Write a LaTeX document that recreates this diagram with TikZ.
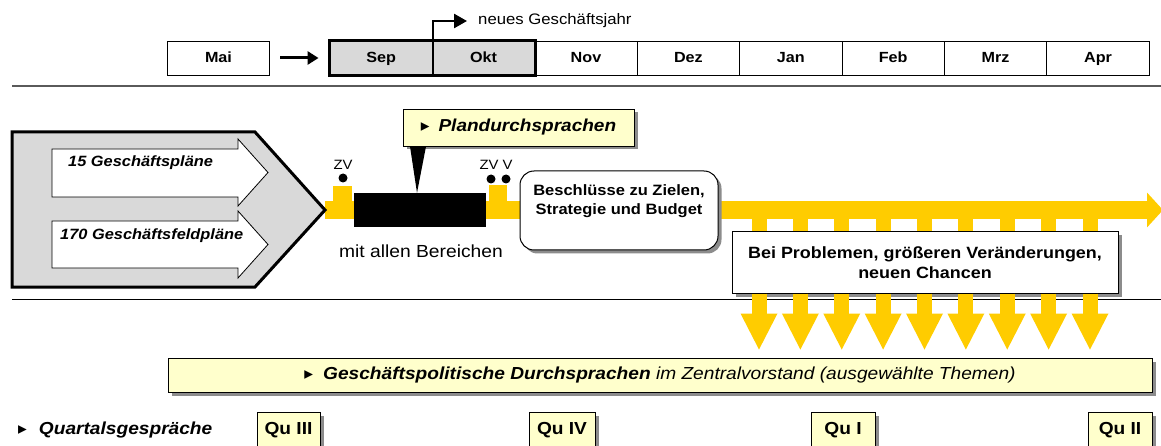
\documentclass[tikz,border=0pt]{standalone}
\usepackage{fontspec}
\setmainfont{Liberation Sans}[FakeStretch=1.1]
\newfontfamily\symfont{DejaVu Sans}
\usetikzlibrary{arrows.meta,shadows}

\definecolor{bandyellow}{HTML}{FFCC00}
\definecolor{paleyellow}{HTML}{FFFFCC}
\definecolor{boxgray}{HTML}{D9D9D9}
\definecolor{shadowgray}{HTML}{8C8C8C}
\definecolor{rulegray}{HTML}{5A5A5A}

% font size and leading in pt
\newcommand\setfs[2]{\fontsize{#1pt}{#2pt}\selectfont}
\newcommand\bul{{\symfont\char"25B8}}

\begin{document}
\begin{tikzpicture}[x=1pt,y=-1pt,
  month/.style={draw, line width=0.9pt, minimum width=102.4pt, minimum height=34pt,
    inner sep=0pt, text height=12pt, text depth=2pt, font={\setfs{14.7}{17}\bfseries}},
  hilite/.style={month, fill=boxgray},
  shade/.style={drop shadow={shadow xshift=3.5pt, shadow yshift=-3.5pt, fill=shadowgray, opacity=1}},
  callout/.style={draw, line width=0.9pt, fill=paleyellow, shade, inner sep=0pt},
  infobox/.style={draw, line width=1pt, fill=white, shade, inner sep=0pt, align=center},
  plainarr/.style={line width=3pt, -{Triangle[length=11pt,width=13pt]}},
  band/.style={bandyellow, line width=18pt, -{Triangle[length=16pt,width=34pt]}},
  stub/.style={bandyellow, line width=15pt},
  downarr/.style={bandyellow, line width=15pt, -{Triangle[length=37pt,width=34pt]}},
  planarrow/.style={draw, line width=0.8pt, fill=white},
  dot/.style={circle, fill=black, inner sep=0pt, minimum size=9pt},
  zvlabel/.style={inner sep=0pt, font={\setfs{13.5}{16}}},
  qubox/.style={callout, minimum height=36pt, text height=12.5pt, text depth=3.5pt,
    font={\setfs{17.4}{20}\bfseries}}
]
\path[use as bounding box, clip] (0,0) rectangle (1161,446);

% ---------- month scale ----------
\node[month] (mai) at (218.5,58) {Mai};
\node[hilite] (sep) at (381.2,58) {Sep};
\node[hilite] (okt) at (483.6,58) {Okt};
\foreach \m [count=\i from 2] in {Nov,Dez,Jan,Feb,Mrz,Apr}
  \node[month] (m\i) at ({381.2+102.4*\i},58) {\m};
\draw[line width=3pt] (sep.north west) rectangle (okt.south east);
\draw[line width=2.5pt] (sep.north east) -- (sep.south east);
\draw[plainarr, shorten <=10pt, shorten >=11pt] (mai) -- (sep);
\node[anchor=west, inner sep=0pt, font={\setfs{15.2}{18}}] (newyear) at (478,21) {neues Geschäftsjahr};
\draw[line width=2.5pt, -{Triangle[length=13pt,width=14pt]}]
  (sep.north east) |- ([xshift=-11pt]newyear.west);

% ---------- separating rules ----------
\draw[rulegray, line width=2pt] (12,86) -- (1161,86);
\draw[black, line width=1pt] (12,299.5) -- (1161,299.5);

% ---------- planning band ----------
\coordinate (tip) at (325,210);
\coordinate (bandend) at (1163,210);
\node[infobox, minimum width=386pt, minimum height=61pt] (prob) at (925,262.5) {};
\foreach \i in {0,...,8}
  \draw[stub] ([xshift={27.5pt+41.375pt*\i}]prob.north west) -- ++(0,-15);
\draw[band] (tip) -- (bandend);

% tabs at the meeting points
\fill[bandyellow] (333,186) rectangle (352,202);
\fill[bandyellow] (489,185) rectangle (507,202);
\node[dot] (zv1) at (343,178) {};
\node[dot] (zv2) at (491,179) {};
\node[dot] (v2) at (506,179) {};
\node[zvlabel] (zvt1) at (343,165) {ZV};
\node[zvlabel] (zvt2) at (489,165) {ZV};
\node[zvlabel] (vt2) at (507.5,165) {V};

% planning phase with all divisions
\node[fill=black, minimum width=132pt, minimum height=34pt, inner sep=0pt] (bar) at (420,210) {};
\node[inner sep=0pt, font={\setfs{17.5}{20}}] (alle) at (421,251) {mit allen Bereichen};

% plan discussion callout
\node[callout, minimum width=231pt, minimum height=37pt, font={\setfs{17.3}{20}\bfseries\itshape}]
  (plan) at (518.5,127.5) {\bul\hspace{9pt}Plandurchsprachen};
\fill[black] ([xshift=-108.5pt]plan.south) -- ([xshift=-92.5pt]plan.south)
  -- ([xshift=-3pt]bar.north) -- cycle;

% decisions
\node[infobox, rounded corners=14pt, minimum width=198pt, minimum height=79pt,
  label={[yshift=9pt, align=center, font={\setfs{15}{19}\bfseries}]center:Beschlüsse zu Zielen,\\Strategie und Budget}]
  (besch) at (619,210.5) {};

% problem box on top of the band, with its text
\node[infobox, minimum width=386pt, minimum height=61pt, font={\setfs{16.3}{20}\bfseries}]
  (prob2) at (prob) {Bei Problemen, größeren Veränderungen,\\neuen Chancen};
\foreach \i in {0,...,8}
  \draw[downarr] ([xshift={27.5pt+41.375pt*\i}]prob2.south west) -- ++(0,57);

% ---------- planning documents ----------
\draw[line width=3pt, fill=boxgray, line join=miter]
  (12,132) -- (255,132) -- (tip) -- (255,287) -- (12,287) -- cycle;
\draw[planarrow] (52,149) -- (238,149) -- (238,139) -- (268,172.5) -- (238,206)
  -- (238,197) -- (52,197) -- cycle;
\draw[planarrow] (52,221) -- (238,221) -- (238,211) -- (268,244.5) -- (238,278)
  -- (238,268) -- (52,268) -- cycle;
\node[anchor=west, inner sep=0pt, font={\setfs{14.9}{18}\bfseries\itshape}] (gp) at (68,163) {15 Geschäftspläne};
\node[anchor=west, inner sep=0pt, font={\setfs{14.9}{18}\bfseries\itshape}] (gfp) at (60,236) {170 Geschäftsfeldpläne};

% ---------- board discussions and quarterly talks ----------
\node[callout, minimum width=984pt, minimum height=34pt, font={\setfs{17.4}{20}\itshape}]
  (gpd) at (660,375) {\bul\hspace{10pt}\textbf{Geschäftspolitische Durchsprachen} im Zentralvorstand (ausgewählte Themen)};

\node[anchor=west, inner sep=0pt, font={\setfs{17.4}{20}\bfseries\itshape}] (quart) at (18,430)
  {\bul\hspace{12pt}Quartalsgespräche};
\node[qubox, minimum width=63pt] (q3) at (288.5,430) {Qu III};
\node[qubox, minimum width=66pt] (q4) at (562,430) {Qu IV};
\node[qubox, minimum width=64pt] (q1) at (843,430) {Qu I};
\node[qubox, minimum width=64pt] (q2) at (1120,430) {Qu II};
\end{tikzpicture}
\end{document}
